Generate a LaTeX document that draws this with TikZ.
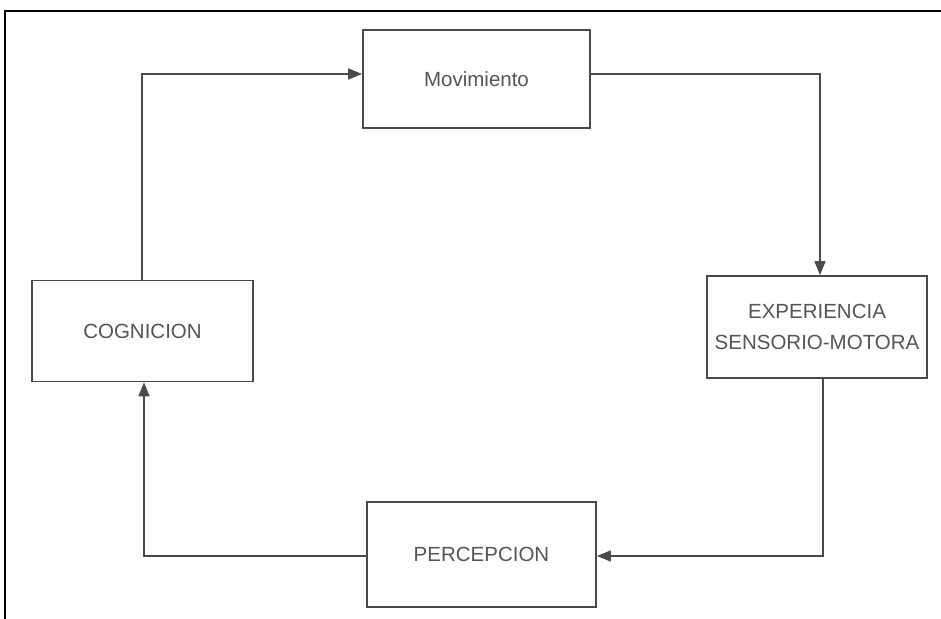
\documentclass[tikz,border=0pt]{standalone}
\usepackage{fontspec}
\setmainfont{Liberation Sans}
\usetikzlibrary{arrows.meta}
\definecolor{ink}{HTML}{4A4A4A}
\definecolor{txt}{HTML}{555555}
\tikzset{
  box/.style={draw=ink, line width=1.8pt, inner sep=0pt, align=center,
    text=txt, font=\fontsize{20.5}{31}\selectfont},
  flow/.style={draw=ink, line width=1.6pt, -{Triangle[length=14pt,width=11pt]}},
}
\begin{document}
\begin{tikzpicture}[x=1pt,y=-1pt]
\useasboundingbox (0,0) rectangle (941,618);
\fill[white] (0,0) rectangle (941,618);
\draw[line width=2pt, black] (5,620) -- (5,11) -- (945,11);
\node[box, minimum width=227pt, minimum height=98pt] (mov) at (476.5,79) {Movimiento};
\node[box, minimum width=220pt, minimum height=102pt] (exp) at (817,327) {EXPERIENCIA\\SENSORIO-MOTORA};
\node[box, minimum width=221pt, minimum height=101pt] (cog) at (142.5,331) {COGNICION};
\node[box, minimum width=229pt, minimum height=105pt] (perc) at (481.5,554.5) {PERCEPCION};
\coordinate (k1) at (142,74);
\coordinate (k2) at (820,74);
\coordinate (k3) at (823,556);
\coordinate (k4) at (144,556);
\draw[flow] (cog.north -| k1) |- (mov.west |- k1);
\draw[flow] (mov.east |- k2) -| (exp.north -| k2);
\draw[flow] (exp.south -| k3) |- (perc.east |- k3);
\draw[flow] (perc.west |- k4) -| (cog.south -| k4);
\end{tikzpicture}
\end{document}
